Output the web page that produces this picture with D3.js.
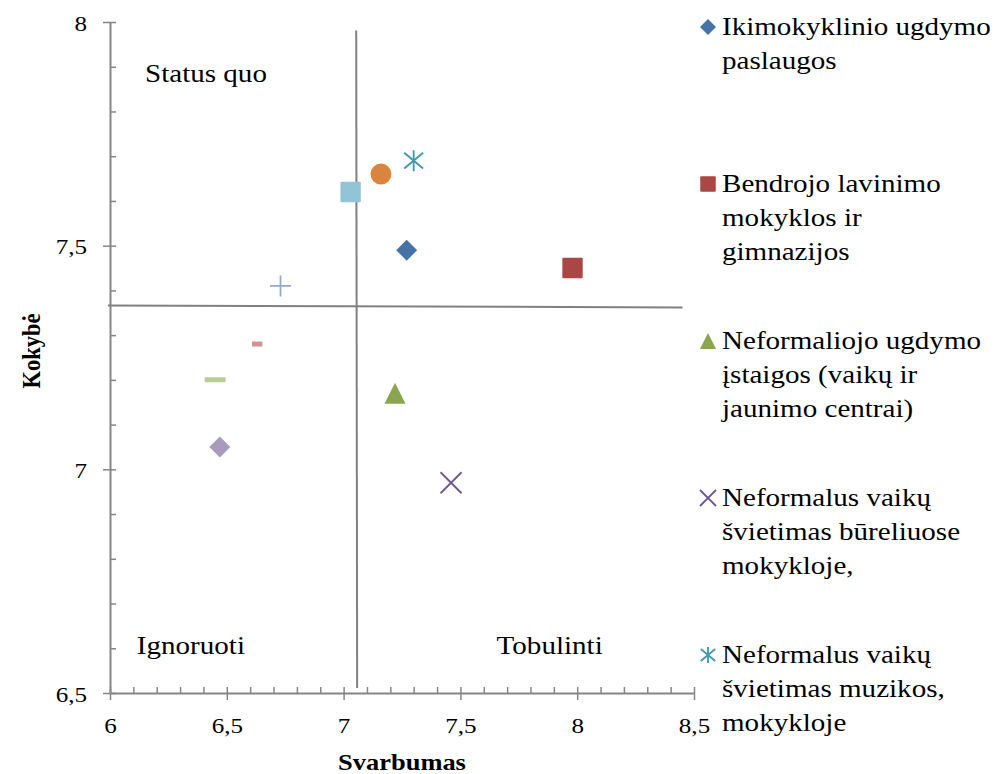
<!DOCTYPE html>
<html>
<head>
<meta charset="utf-8">
<script src="https://cdn.jsdelivr.net/npm/d3@7"></script>
<style>
  html, body { margin: 0; padding: 0; background: #fff; }
  svg { display: block; }
  svg text { font-family: "Liberation Serif", "Times New Roman", Tinos, serif; fill: #000; }
</style>
</head>
<body>
<svg id="chart" width="997" height="774"></svg>
<script>
// ---- data ----
const svarbumas = [7.27, 7.98, 7.22, 7.46, 7.30, 7.16, 7.03, 6.73, 6.63, 6.45, 6.47];
const kokybe    = [7.49, 7.45, 7.17, 6.97, 7.69, 7.66, 7.62, 7.41, 7.28, 7.20, 7.05];
const markerTypes = ["diamond", "square", "triangle", "x", "star", "circle", "square", "plus", "dashS", "dash", "diamond"];
const colors = ["#4572A7", "#AA4643", "#89A54E", "#71588F", "#4198AF", "#DB843D", "#92C4D7", "#93A9CF", "#D19392", "#B9CD96", "#A99BBD"];
const legendLabels = [
  ["Ikimokyklinio ugdymo", "paslaugos"],
  ["Bendrojo lavinimo", "mokyklos ir", "gimnazijos"],
  ["Neformaliojo ugdymo", "įstaigos (vaikų ir", "jaunimo centrai)"],
  ["Neformalus vaikų", "švietimas būreliuose", "mokykloje,"],
  ["Neformalus vaikų", "švietimas muzikos,", "mokykloje"]
];
const xTicks = [6, 6.5, 7, 7.5, 8, 8.5];
const yTicks = [6.5, 7, 7.5, 8];
const quadVx = [7.054, 7.058], quadVy = [7.981, 6.511];
const quadHx = [5.991, 8.451], quadHy = [7.366, 7.362];
const quadrantLabels = [
  { text: "Status quo", x: 6.15, y: 7.865 },
  { text: "Ignoruoti",  x: 6.115, y: 6.588 },
  { text: "Tobulinti",  x: 7.655, y: 6.588 }
];

// ---- setup ----
const svg = d3.select("#chart");
const x = d3.scaleLinear().domain([6, 8.5]).range([110, 694]);
const y = d3.scaleLinear().domain([6.5, 8]).range([693, 22]);
const axisColor = "#868686";
const SX = 1.14;
const fmt = d => String(d).replace(".", ",");

// minor ticks
svg.append("g").attr("transform", `translate(0,${y(6.5)})`)
  .call(d3.axisBottom(x).tickValues(d3.range(60, 86, 1).map(v => v / 10)).tickSize(-6).tickSizeOuter(0).tickFormat(""))
  .call(g => g.select(".domain").remove())
  .call(g => g.selectAll("line").attr("stroke", axisColor).attr("stroke-width", 1.5));
svg.append("g").attr("transform", `translate(${x(6)},0)`)
  .call(d3.axisLeft(y).tickValues(d3.range(65, 81, 1).map(v => v / 10)).tickSize(-6).tickSizeOuter(0).tickFormat(""))
  .call(g => g.select(".domain").remove())
  .call(g => g.selectAll("line").attr("stroke", axisColor).attr("stroke-width", 1.5));

// major axes
const xAxis = svg.append("g").attr("transform", `translate(0,${y(6.5)})`)
  .call(d3.axisBottom(x).tickValues(xTicks).tickSize(7).tickSizeOuter(0).tickFormat(fmt));
xAxis.selectAll("text").attr("y", 0).attr("dy", 0)
  .attr("transform", `translate(0,40) scale(${SX},1)`)
  .style("font-size", "22px").attr("text-anchor", "middle");
const yAxis = svg.append("g").attr("transform", `translate(${x(6)},0)`)
  .call(d3.axisLeft(y).tickValues(yTicks).tickSize(7).tickSizeOuter(0).tickFormat(fmt));
yAxis.selectAll("text").attr("x", 0).attr("dy", 0)
  .attr("transform", `translate(-23,8) scale(${SX},1)`)
  .style("font-size", "22px").attr("text-anchor", "end");
svg.selectAll(".domain").attr("stroke", axisColor).attr("stroke-width", 2);
xAxis.selectAll(".tick line").attr("stroke", axisColor).attr("stroke-width", 1.5);
yAxis.selectAll(".tick line").attr("stroke", axisColor).attr("stroke-width", 1.5);

// quadrant lines
const line = d3.line().x(d => x(d[0])).y(d => y(d[1]));
svg.append("path").attr("d", line(quadVx.map((v, i) => [v, quadVy[i]])))
  .attr("stroke", "#808080").attr("stroke-width", 2).attr("fill", "none");
svg.append("path").attr("d", line(quadHx.map((v, i) => [v, quadHy[i]])))
  .attr("stroke", "#808080").attr("stroke-width", 2).attr("fill", "none");

// quadrant labels
quadrantLabels.forEach(q => {
  svg.append("text").attr("transform", `translate(${x(q.x)},${y(q.y)}) scale(${SX},1)`)
    .style("font-size", "25.5px").text(q.text);
});

// axis titles
svg.append("text").attr("transform", `translate(402,770) scale(1.15,1)`)
  .attr("text-anchor", "middle").style("font-size", "23px").style("font-weight", "bold").text("Svarbumas");
svg.append("text").attr("transform", `translate(40,351) rotate(-90) scale(1,1.12)`)
  .attr("text-anchor", "middle").style("font-size", "22.5px").style("font-weight", "bold").text("Kokybė");

// markers
function drawMarker(g, type, color, s) {
  const h = s / 2;
  switch (type) {
    case "diamond":
      g.append("path").attr("d", `M0,${-h}L${h},0L0,${h}L${-h},0Z`).attr("fill", color); break;
    case "square":
      g.append("rect").attr("x", -h * 0.97).attr("y", -h * 0.97).attr("width", s * 0.97).attr("height", s * 0.97)
        .attr("rx", 1).attr("fill", color); break;
    case "triangle":
      g.append("path").attr("d", `M0,${-h}L${h},${h}L${-h},${h}Z`).attr("fill", color); break;
    case "circle":
      g.append("circle").attr("r", h).attr("fill", color); break;
    case "x":
      g.append("path").attr("d", `M${-h},${-h}L${h},${h}M${-h},${h}L${h},${-h}`)
        .attr("stroke", color).attr("stroke-width", 1.8).attr("fill", "none"); break;
    case "star":
      g.append("path").attr("d", `M${-h * 0.9},${-h * 0.75}L${h * 0.9},${h * 0.75}M${-h * 0.9},${h * 0.75}L${h * 0.9},${-h * 0.75}M0,${-h}L0,${h}`)
        .attr("stroke", color).attr("stroke-width", 1.8).attr("fill", "none"); break;
    case "plus":
      g.append("path").attr("d", `M${-h},0L${h},0M0,${-h}L0,${h}`)
        .attr("stroke", color).attr("stroke-width", 1.8).attr("fill", "none"); break;
    case "dash":
      g.append("rect").attr("x", -s / 2).attr("y", -2.5).attr("width", s).attr("height", 5).attr("rx", 1).attr("fill", color); break;
    case "dashS":
      g.append("rect").attr("x", -s / 4).attr("y", -2.5).attr("width", s / 2).attr("height", 5).attr("rx", 1).attr("fill", color); break;
  }
}

svarbumas.forEach((v, i) => {
  const g = svg.append("g").attr("transform", `translate(${x(v)},${y(kokybe[i])})`);
  drawMarker(g, markerTypes[i], colors[i], 21);
});

// legend
legendLabels.forEach((lines, i) => {
  const base = 35 + i * 157;
  const g = svg.append("g").attr("transform", `translate(708,${base - 8})`);
  drawMarker(g, markerTypes[i], colors[i], 16);
  lines.forEach((t, j) => {
    svg.append("text").attr("transform", `translate(722,${base + j * 34}) scale(${SX},1)`)
      .style("font-size", "25.5px").text(t);
  });
});
</script>
</body>
</html>
